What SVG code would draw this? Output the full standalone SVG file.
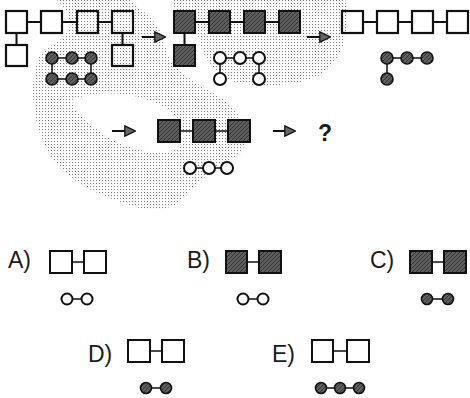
<svg xmlns="http://www.w3.org/2000/svg" width="470" height="398" viewBox="0 0 470 398">
<defs>
<pattern id="stip" width="3" height="3" patternUnits="userSpaceOnUse">
<rect x="0" y="0" width="1" height="1" fill="#7a7a7a"/>
<rect x="1.5" y="1.5" width="0.6" height="0.6" fill="#c8c8c8"/>
</pattern>
<pattern id="dk" width="4" height="4" patternUnits="userSpaceOnUse">
<rect width="4" height="4" fill="#5e5e5e"/>
<path d="M0 4 L4 0" stroke="#333" stroke-width="1"/>
</pattern>
<marker id="arr" viewBox="0 0 12 12" markerWidth="12" markerHeight="12" markerUnits="userSpaceOnUse" refX="1" refY="6" orient="auto">
<path d="M0.8 0.8 L11.5 6 L0.8 11.2 Z" fill="#666" stroke="#111" stroke-width="1.3"/>
</marker>
</defs>
<style>
.sw{fill:none;stroke:#111;stroke-width:2.2}
.sww{fill:#fff;stroke:#111;stroke-width:2}
.sd{fill:url(#dk);stroke:#111;stroke-width:2}
.ch{fill:#fff;stroke:#111;stroke-width:2}
.cd{fill:url(#dk);stroke:#111;stroke-width:1.6}
.ln{stroke:#111;stroke-width:2;fill:none}
.lt{stroke:#111;stroke-width:1.5;fill:none}
.ar{stroke:#111;stroke-width:2;fill:none;marker-end:url(#arr)}
.t{font-family:"Liberation Sans",Arial,sans-serif;font-size:23px;fill:#1a1a1a}
</style>
<rect width="470" height="398" fill="#fff"/>
<g id="background">
<path fill="url(#stip)" fill-rule="evenodd" d="M55 -2 L128 -2 C140 10 160 20 165 45 C168 70 200 85 225 100 C250 120 250 150 235 158 C210 165 200 185 175 205 C160 212 140 210 120 202 C80 188 55 170 45 145 C30 115 30 75 40 55 C48 45 68 40 70 25 C70 12 62 5 55 -2 Z M72 100 C95 90 135 90 165 108 C185 120 190 140 175 150 C150 158 115 145 95 128 C82 118 72 108 72 100 Z"/>
<path fill="url(#stip)" d="M172 -2 L345 -2 C350 30 345 60 320 75 C295 88 250 88 230 80 C210 70 200 50 198 35 C185 30 175 15 172 -2 Z"/>
</g>
<g id="connectors">
<path class="ln" d="M27 22H41 M62 22H77 M98 22H112 M16.5 33V45 M122.5 33V45"/>
<path class="lt" d="M52 58H91 M52 79H91 M52 58V79 M91 58V79"/>
<path class="ln" d="M195 22H209 M230 22H244 M265 22H279 M184.5 33V45"/>
<path class="lt" d="M220 58H259 M220 58V79 M259 58V79"/>
<path class="ln" d="M363 22H377 M398 22H412 M433 22H447"/>
<path class="lt" d="M387 58H427 M387 58V79"/>
<path class="lt" d="M180 131H193 M215 131H228"/>
<path class="lt" d="M190 168H227"/>
<path class="ar" d="M142 37H155"/>
<path class="ar" d="M307 37H320"/>
<path class="ar" d="M112 131H125"/>
<path class="ar" d="M273 131H285"/>
<path class="lt" d="M72 262H84 M247 262H259 M432 262H444 M150 351H162 M333 351H347"/>
<path class="lt" d="M67 299H87 M243 299H263 M427 299H448 M146 388H166 M321 388H359"/>
</g>
<g id="panel1">
<rect class="sw" x="6" y="11" width="21" height="22"/>
<rect class="sw" x="41" y="11" width="21" height="22"/>
<rect class="sw" x="77" y="11" width="21" height="22"/>
<rect class="sw" x="112" y="11" width="21" height="22"/>
<rect class="sw" x="6" y="45" width="21" height="21"/>
<rect class="sw" x="112" y="45" width="21" height="21"/>
<circle class="cd" cx="52" cy="58" r="6"/><circle class="cd" cx="72" cy="58" r="6"/><circle class="cd" cx="91" cy="58" r="6"/>
<circle class="cd" cx="52" cy="79" r="6"/><circle class="cd" cx="72" cy="79" r="6"/><circle class="cd" cx="91" cy="79" r="6"/>
</g>
<g id="panel2">
<rect class="sd" x="174" y="11" width="21" height="22"/>
<rect class="sd" x="209" y="11" width="21" height="22"/>
<rect class="sd" x="244" y="11" width="21" height="22"/>
<rect class="sd" x="279" y="11" width="21" height="22"/>
<rect class="sd" x="174" y="45" width="21" height="21"/>
<circle class="ch" cx="220" cy="58" r="6"/><circle class="ch" cx="240" cy="58" r="6"/><circle class="ch" cx="259" cy="58" r="6"/>
<circle class="ch" cx="220" cy="79" r="6"/><circle class="ch" cx="259" cy="79" r="6"/>
</g>
<g id="panel3">
<rect class="sw" x="342" y="11" width="21" height="22"/>
<rect class="sw" x="377" y="11" width="21" height="22"/>
<rect class="sw" x="412" y="11" width="21" height="22"/>
<rect class="sw" x="447" y="11" width="21" height="22"/>
<circle class="cd" cx="387" cy="58" r="6"/><circle class="cd" cx="407" cy="58" r="6"/><circle class="cd" cx="427" cy="58" r="6"/>
<circle class="cd" cx="387" cy="79" r="6"/>
</g>
<g id="panel4">
<rect class="sd" x="158" y="120" width="22" height="22"/>
<rect class="sd" x="193" y="120" width="22" height="22"/>
<rect class="sd" x="228" y="120" width="22" height="22"/>
<circle class="ch" cx="190" cy="168" r="6"/><circle class="ch" cx="209" cy="168" r="6"/><circle class="ch" cx="227" cy="168" r="6"/>
<text class="t" x="318" y="141" font-size="22" font-weight="bold">?</text>
</g>
<g id="optionA">
<text class="t" x="8" y="268">A)</text>
<rect class="sww" x="50" y="251" width="22" height="22"/>
<rect class="sww" x="84" y="251" width="22" height="22"/>
<circle class="ch" cx="67" cy="299" r="5.5"/><circle class="ch" cx="87" cy="299" r="5.5"/>
</g>
<g id="optionB">
<text class="t" x="187" y="268">B)</text>
<rect class="sd" x="226" y="251" width="21" height="22"/>
<rect class="sd" x="259" y="251" width="22" height="22"/>
<circle class="ch" cx="243" cy="299" r="5.5"/><circle class="ch" cx="263" cy="299" r="5.5"/>
</g>
<g id="optionC">
<text class="t" x="370" y="268">C)</text>
<rect class="sd" x="410" y="251" width="22" height="22"/>
<rect class="sd" x="444" y="251" width="22" height="22"/>
<circle class="cd" cx="427" cy="299" r="5.5"/><circle class="cd" cx="448" cy="299" r="5.5"/>
</g>
<g id="optionD">
<text class="t" x="88" y="362">D)</text>
<rect class="sww" x="128" y="340" width="22" height="22"/>
<rect class="sww" x="162" y="340" width="22" height="22"/>
<circle class="cd" cx="146" cy="388" r="5.5"/><circle class="cd" cx="166" cy="388" r="5.5"/>
</g>
<g id="optionE">
<text class="t" x="272" y="362">E)</text>
<rect class="sww" x="312" y="340" width="21" height="22"/>
<rect class="sww" x="347" y="340" width="22" height="22"/>
<circle class="cd" cx="321" cy="388" r="5.5"/><circle class="cd" cx="340" cy="388" r="5.5"/><circle class="cd" cx="359" cy="388" r="5.5"/>
</g>
</svg>
